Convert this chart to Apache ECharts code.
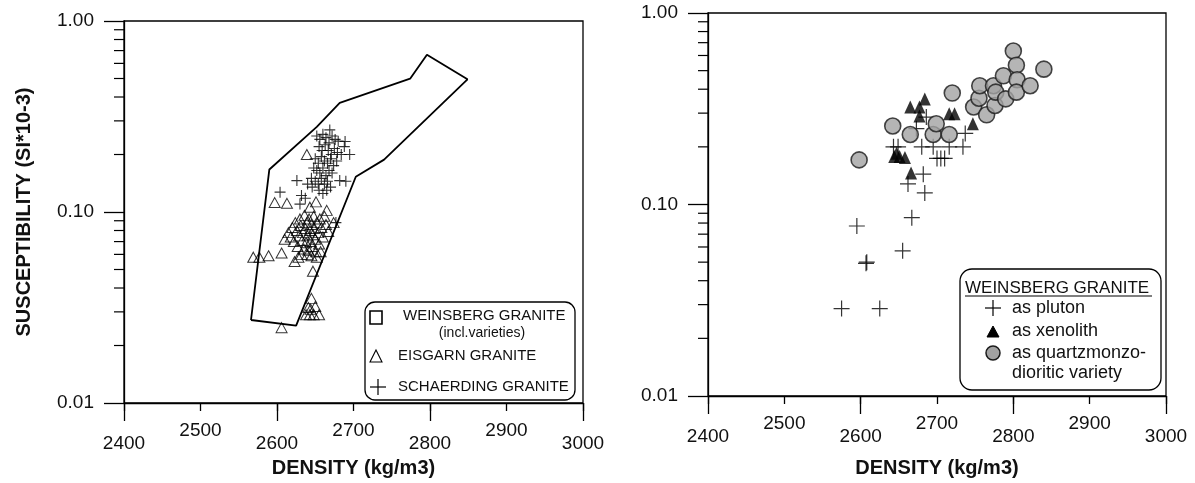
<!DOCTYPE html>
<html><head><meta charset="utf-8">
<script src="https://cdn.jsdelivr.net/npm/echarts@6/dist/echarts.min.js"></script>
<style>html,body{margin:0;padding:0;background:#fff}#c{width:1195px;height:483px}</style>
</head><body><div id="c"></div>
<script>
const FONT = 'Liberation Sans, Arial, Helvetica, sans-serif';
const INK = '#111';
const xMin = 2400, xMax = 3000;
const yMin = 0.01, yMax = 1;
const xTitle = 'DENSITY (kg/m3)';
const yTitle = 'SUSCEPTIBILITY (SI*10-3)';
const yMinorTicks = [0.02,0.03,0.04,0.05,0.06,0.07,0.08,0.09,0.2,0.3,0.4,0.5,0.6,0.7,0.8,0.9];

// Left panel
const weinsbergField = [[2566,0.0272],[2590,0.167],[2652,0.279],[2682,0.373],[2774,0.499],[2796,0.666],[2849,0.495],[2740,0.188],[2703,0.153],[2625,0.0254],[2566,0.0272]];
const eisgarn = [
[2606,0.0248],[2638,0.029],[2643,0.029],[2648,0.029],[2655,0.029],[2641,0.0316],[2650,0.032],[2645,0.0353],[2644,0.031],
[2647,0.049],[2623,0.055],[2606,0.061],[2569,0.058],[2577,0.058],[2589,0.059],[2645,0.059],[2652,0.058],[2640,0.06],
[2597,0.112],[2613,0.111],[2639,0.2],[2651,0.113],[2643,0.106],[2665,0.102],[2674,0.088],[2610,0.072],
[2615,0.078],[2618,0.074],[2620,0.083],[2622,0.07],[2624,0.088],[2626,0.08],[2627,0.066],[2629,0.075],[2630,0.092],[2631,0.085],
[2633,0.071],[2634,0.078],[2635,0.064],[2636,0.096],[2637,0.082],[2638,0.069],[2639,0.088],[2640,0.075],[2641,0.063],[2642,0.092],
[2643,0.08],[2644,0.07],[2645,0.086],[2646,0.066],[2647,0.076],[2648,0.095],[2649,0.082],[2650,0.072],[2651,0.062],[2652,0.088],
[2654,0.078],[2655,0.068],[2656,0.092],[2658,0.083],[2660,0.074],[2662,0.095],[2664,0.086],[2667,0.079],[2632,0.06],[2628,0.058],[2657,0.062]
];
const schaerding = [
[2604,0.127],[2626,0.146],[2632,0.122],[2630,0.11],[2637,0.118],[2677,0.088],[2695,0.2],[2682,0.146],[2669,0.269],[2689,0.234],
[2652,0.25],[2656,0.24],[2660,0.255],[2664,0.245],[2668,0.23],[2672,0.25],[2676,0.24],[2680,0.235],[2655,0.22],[2659,0.21],
[2663,0.225],[2667,0.21],[2671,0.2],[2675,0.215],[2679,0.205],[2684,0.2],[2688,0.22],[2650,0.19],[2654,0.18],[2658,0.195],
[2662,0.185],[2666,0.18],[2670,0.19],[2674,0.175],[2678,0.185],[2648,0.17],[2652,0.165],[2656,0.16],[2660,0.17],[2664,0.155],
[2668,0.165],[2672,0.16],[2645,0.15],[2650,0.145],[2654,0.14],[2658,0.15],[2662,0.14],[2666,0.145],[2670,0.135],[2655,0.13],
[2660,0.125],[2665,0.13],[2690,0.145],[2646,0.135],[2640,0.14]
];
const leftLegend = ['WEINSBERG GRANITE', '(incl.varieties)', 'EISGARN GRANITE', 'SCHAERDING GRANITE'];

// Right panel
const pluton = [[2575,0.0286],[2625,0.0286],[2607,0.0493],[2608,0.05],[2655,0.0573],[2595,0.0772],[2667,0.0853],[2684,0.115],[2662,0.128],[2682,0.144],
[2643,0.2],[2649,0.2],[2680,0.2],[2695,0.2],[2716,0.2],[2734,0.2],[2737,0.235],[2700,0.174],[2705,0.174],[2710,0.174],[2673,0.249],[2686,0.286]];
const xenolith = [[2665,0.323],[2677,0.323],[2684,0.356],[2677,0.29],[2716,0.298],[2723,0.298],[2747,0.264],[2644,0.178],[2651,0.178],[2658,0.176],[2647,0.185],[2666,0.146]];
const quartzmonzo = [[2598,0.171],[2642,0.257],[2665,0.232],[2695,0.232],[2699,0.264],[2716,0.232],[2720,0.382],[2748,0.323],[2755,0.359],[2756,0.417],
[2765,0.294],[2774,0.417],[2776,0.329],[2777,0.386],[2787,0.47],[2790,0.356],[2800,0.633],[2804,0.534],[2805,0.448],[2804,0.386],[2822,0.417],[2840,0.509]];
const rightLegendTitle = 'WEINSBERG GRANITE';
const rightLegend = ['as pluton', 'as xenolith', 'as quartzmonzo-', 'dioritic variety'];

const CROSS = 'path://M0,5L10,5M5,0L5,10';
const lineS = {color:'#000', width:1.3};

function xAxes(gi, nameGap) {
  return [
    {gridIndex:gi, type:'value', min:xMin, max:xMax, interval:200, position:'bottom',
     axisLine:{show:true, lineStyle:lineS}, axisTick:{show:true, length:18, lineStyle:lineS},
     axisLabel:{margin:31, fontSize:19, color:INK, fontFamily:FONT, formatter:v => String(v)},
     splitLine:{show:false},
     name:xTitle, nameLocation:'middle', nameGap:nameGap,
     nameTextStyle:{fontSize:20, fontWeight:'bold', color:INK, fontFamily:FONT}},
    {gridIndex:gi, type:'value', min:xMin, max:xMax, interval:100, position:'bottom',
     axisLine:{show:false}, axisTick:{show:true, length:8, lineStyle:lineS},
     axisLabel:{margin:18, fontSize:19, color:INK, fontFamily:FONT, formatter:v => (v % 200 === 100 ? String(v) : '')},
     splitLine:{show:false}}
  ];
}
function yAxis(gi, withName) {
  const a = {gridIndex:gi, type:'log', logBase:10, min:yMin, max:yMax,
    axisLine:{show:true, lineStyle:lineS}, axisTick:{show:true, length:20, lineStyle:lineS},
    axisLabel:{margin:30, fontSize:19, color:INK, fontFamily:FONT, formatter:v => Number(v).toFixed(2)},
    splitLine:{show:false}, minorTick:{show:false}};
  if (withName) {
    a.name = yTitle; a.nameLocation = 'middle'; a.nameGap = 90;
    a.nameTextStyle = {fontSize:20, fontWeight:'bold', color:INK, fontFamily:FONT};
  }
  return a;
}
function minorTickSeries(xi, yi) {
  return {type:'custom', xAxisIndex:xi, yAxisIndex:yi, silent:true, clip:false, z:3,
    data: yMinorTicks.map(v => [xMin, v]),
    renderItem:(params, api) => {
      const p = api.coord([api.value(0), api.value(1)]);
      return {type:'line', shape:{x1:p[0]-10, y1:p[1], x2:p[0], y2:p[1]}, style:{stroke:'#000', lineWidth:1.2}};
    }};
}
function txt(x, y, s, size, extra) {
  return Object.assign({type:'text', x:x, y:y, z:20,
    style:{text:s, fontSize:size, fontFamily:FONT, fill:INK, align:'left', verticalAlign:'middle', textAlign:'left', textVerticalAlign:'middle'}}, extra || {});
}

const chart = echarts.init(document.getElementById('c'), null, {renderer:'canvas'});
chart.setOption({
  animation:false,
  backgroundColor:'#fff',
  grid:[
    {left:124, top:21, width:459, height:389, show:true, borderColor:'#000', borderWidth:1.3, containLabel:false},
    {left:708, top:13, width:458, height:387, show:true, borderColor:'#000', borderWidth:1.3, containLabel:false}
  ],
  xAxis:[].concat(xAxes(0, 55), xAxes(1, 62)),
  yAxis:[yAxis(0, true), yAxis(1, false)],
  series:[
    {name:'WEINSBERG GRANITE', type:'line', xAxisIndex:0, yAxisIndex:0, data:weinsbergField, symbol:'none', silent:true,
     lineStyle:{color:'#000', width:1.8}, z:2},
    {name:'EISGARN GRANITE', type:'scatter', xAxisIndex:0, yAxisIndex:0, data:eisgarn, symbol:'triangle', symbolSize:[11,10],
     itemStyle:{color:'rgba(0,0,0,0)', borderColor:'#000', borderWidth:1}, z:4},
    {name:'SCHAERDING GRANITE', type:'scatter', xAxisIndex:0, yAxisIndex:0, data:schaerding, symbol:CROSS, symbolSize:11,
     itemStyle:{color:'rgba(0,0,0,0)', borderColor:'#000', borderWidth:1.1}, z:5},
    minorTickSeries(0, 0),
    {name:'as pluton', type:'scatter', xAxisIndex:2, yAxisIndex:1, data:pluton, symbol:CROSS, symbolSize:16,
     itemStyle:{color:'rgba(0,0,0,0)', borderColor:'#000', borderWidth:1.2}, z:4},
    {name:'as quartzmonzodioritic variety', type:'scatter', xAxisIndex:2, yAxisIndex:1, data:quartzmonzo, symbol:'circle', symbolSize:16,
     itemStyle:{color:'#a2a2a2', borderColor:'#1a1a1a', borderWidth:1.6}, z:5},
    {name:'as xenolith', type:'scatter', xAxisIndex:2, yAxisIndex:1, data:xenolith, symbol:'triangle', symbolSize:[12,13],
     itemStyle:{color:'#000'}, z:6},
    minorTickSeries(2, 1)
  ],
  graphic:[
    {type:'rect', z:10, shape:{x:365, y:302, width:210, height:98, r:10}, style:{fill:'#fff', stroke:'#000', lineWidth:1.3}},
    {type:'rect', z:20, shape:{x:370, y:311, width:12, height:13}, style:{fill:'none', stroke:'#000', lineWidth:1.6}},
    txt(403, 316, leftLegend[0], 15),
    {type:'text', x:482, y:333, z:20, style:{text:leftLegend[1], fontSize:14, fontFamily:FONT, fill:INK, align:'center', verticalAlign:'middle', textAlign:'center', textVerticalAlign:'middle'}},
    {type:'polygon', z:20, shape:{points:[[370,362],[382,362],[376,350]]}, style:{fill:'none', stroke:'#000', lineWidth:1.1}},
    txt(398, 356, leftLegend[2], 15),
    {type:'line', z:20, shape:{x1:370, y1:387, x2:386, y2:387}, style:{stroke:'#000', lineWidth:1.2}},
    {type:'line', z:20, shape:{x1:378, y1:379, x2:378, y2:395}, style:{stroke:'#000', lineWidth:1.2}},
    txt(398, 387, leftLegend[3], 15),

    {type:'rect', z:10, shape:{x:960, y:269, width:201, height:121, r:12}, style:{fill:'#fff', stroke:'#000', lineWidth:1.3}},
    txt(965, 288, rightLegendTitle, 17),
    {type:'line', z:20, shape:{x1:965, y1:296, x2:1152, y2:296}, style:{stroke:'#000', lineWidth:1.2}},
    {type:'line', z:20, shape:{x1:985, y1:308, x2:1001, y2:308}, style:{stroke:'#000', lineWidth:1.2}},
    {type:'line', z:20, shape:{x1:993, y1:300, x2:993, y2:316}, style:{stroke:'#000', lineWidth:1.2}},
    txt(1012, 308, rightLegend[0], 18),
    {type:'polygon', z:20, shape:{points:[[987,337],[999,337],[993,326]]}, style:{fill:'#000', stroke:'#000', lineWidth:1}},
    txt(1012, 331, rightLegend[1], 18),
    {type:'circle', z:20, shape:{cx:993, cy:353, r:7}, style:{fill:'#a2a2a2', stroke:'#1a1a1a', lineWidth:1.5}},
    txt(1012, 353, rightLegend[2], 18),
    txt(1012, 373, rightLegend[3], 18)
  ]
});
</script></body></html>
